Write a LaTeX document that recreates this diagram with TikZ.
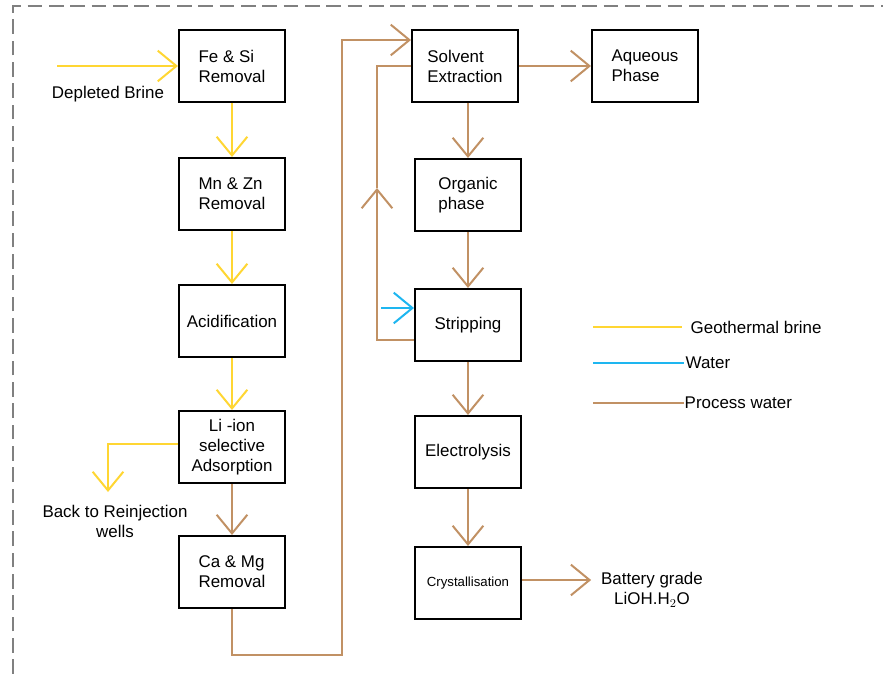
\documentclass[tikz,border=0pt]{standalone}
\usepackage{fontspec}
\setmainfont{Liberation Sans}
\usetikzlibrary{arrows.meta}
\definecolor{brinecol}{RGB}{255,214,51}
\definecolor{watercol}{RGB}{30,182,240}
\definecolor{processcol}{RGB}{193,145,100}
\begin{document}
\begin{tikzpicture}[
            x=0.75pt, y=-0.75pt,
            every node/.style={font=\fontsize{12.7}{15}\selectfont},
            stage/.style={
                rectangle, draw, line width=1.5pt, align=left,
                minimum width=79.5pt, minimum height=54pt, inner sep=2pt
            },
            flow/.style={-{Straight Barb[length=14pt, width=23pt]}},
            brine/.style={draw=brinecol, line width=1.5pt},
            water/.style={draw=watercol, line width=1.5pt},
            process/.style={draw=processcol, line width=1.5pt},
            frame/.style={draw=gray, line width=1.1pt, dash pattern=on 11pt off 5pt}
        ]
        \useasboundingbox (0,0) rectangle (883,674);
        \draw[frame] (13,674) -- (13,6) -- (883,6);

        % left column
        \node[stage] (fesi) at (232,66) {Fe \& Si\\Removal};
        \node[stage] (mnzn) at (232,194) {Mn \& Zn\\Removal};
        \node[stage] (acid) at (232,321) {Acidification};
        \node[stage, align=center] (liion) at (232,447) {Li -ion\\selective\\Adsorption};
        \node[stage] (camg) at (232,572) {Ca \& Mg\\Removal};

        % right column
        \node[stage] (solvent) at (465,66) {Solvent\\Extraction};
        \node[stage] (aqueous) at (645,66) {Aqueous\\Phase};
        \node[stage] (organic) at (468,195) {Organic\\phase};
        \node[stage] (strip) at (468,325) {Stripping};
        \node[stage] (electro) at (468,452) {Electrolysis};
        \node[stage, font=\fontsize{9.9}{12}\selectfont] (crystal) at (468,583) {Crystallisation};

        % free labels
        \node (depleted) at (108,94) {Depleted Brine};
        \node[align=center] (backwells) at (115,521) {Back to Reinjection\\wells};
        \node[align=center] (battery) at (652,590) {Battery grade\\LiOH.H$_2$O};

        \coordinate (brinein) at (57,66);
        \coordinate (backtip) at (108,492);
        \coordinate (lowturn) at (342,655);
        \coordinate (recup) at (377,188);
        \coordinate (waterin) at (381,308);

        % geothermal brine
        \draw[brine, flow] (brinein) -- (fesi.west);
        \draw[brine, flow] (fesi) -- (mnzn);
        \draw[brine, flow] (mnzn) -- (acid);
        \draw[brine, flow] (acid) -- (liion);
        \draw[brine, flow] ([yshift=2.25pt]liion.west) -| (backtip);

        % process water
        \draw[process, flow] (liion) -- (camg);
        \draw[process, flow] (camg.south) |- (lowturn) |- ([yshift=19.5pt]solvent.west);
        \draw[process, flow] ([yshift=-11.25pt]strip.west) -| (recup);
        \draw[process] (recup) |- (solvent.west);
        \draw[process, flow] (solvent) -- (aqueous);
        \draw[process, flow] (organic.north |- solvent.south) -- (organic.north);
        \draw[process, flow] (organic) -- (strip);
        \draw[process, flow] (strip) -- (electro);
        \draw[process, flow] (electro) -- (crystal);
        \draw[process, flow, shorten >=4pt] ([yshift=2.25pt]crystal.east) -- ([yshift=2.25pt]crystal.east -| battery.west);

        % water
        \draw[water, flow] (waterin) -- (waterin -| strip.west);

        % legend
        \coordinate (lgbrine) at (593,327);
        \coordinate (lgwater) at (593,363);
        \coordinate (lgprocess) at (593,403);
        \node[anchor=west] (txtbrine) at (686,327) {Geothermal brine};
        \node[anchor=west] (txtwater) at (681,363) {Water};
        \node[anchor=west] (txtprocess) at (680,403) {Process water};
        \draw[brine] (lgbrine) -- ([xshift=-3pt]txtbrine.west);
        \draw[water] (lgwater) -- ([xshift=2pt]txtwater.west);
        \draw[process] (lgprocess) -- ([xshift=3pt]txtprocess.west);
    \end{tikzpicture}
\end{document}
